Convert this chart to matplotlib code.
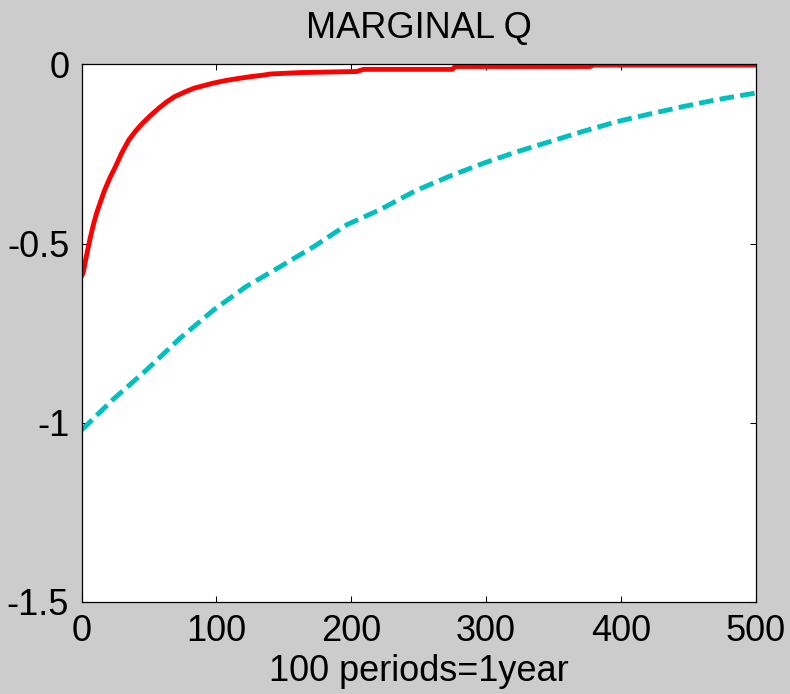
import numpy as np
import matplotlib
matplotlib.use('Agg')
import matplotlib.pyplot as plt

plt.rcParams['font.family'] = ['Liberation Sans', 'DejaVu Sans']
plt.rcParams['axes.unicode_minus'] = False

# red solid curve (stepped tail)
red_x = [0, 1, 3.5, 6, 8.5, 11, 14, 17, 21, 25, 30, 35, 40, 45, 51, 57, 63, 69, 76, 83,
         90, 97, 107, 117, 126, 135, 140, 162, 204, 209, 275, 277, 377, 380, 500]
red_y = [-0.59, -0.583, -0.535, -0.49, -0.45, -0.416, -0.383, -0.351, -0.316, -0.286,
         -0.245, -0.211, -0.186, -0.165, -0.143, -0.123, -0.105, -0.090, -0.078,
         -0.067, -0.06, -0.053, -0.045, -0.039, -0.034, -0.030, -0.027, -0.023,
         -0.020, -0.014, -0.014, -0.006, -0.006, -0.002, -0.002]

# cyan dashed curve
cyan_x = [0, 23, 48, 73, 98, 122, 147, 172, 197, 221, 248, 273, 298, 322, 347,
          372, 397, 422, 446, 472, 500]
cyan_y = [-1.02, -0.936, -0.853, -0.764, -0.685, -0.620, -0.565, -0.509, -0.447,
          -0.406, -0.352, -0.312, -0.276, -0.245, -0.216, -0.187, -0.160, -0.138,
          -0.118, -0.098, -0.08]

xticks = [0, 100, 200, 300, 400, 500]
yticks = [-1.5, -1, -0.5, 0]
ytick_labels = ['-1.5', '-1', '-0.5', '0']

fig = plt.figure(figsize=(7.9, 6.94), dpi=100, facecolor='#cccccc')
ax = fig.add_axes([0.1034, 0.1326, 0.8532, 0.7747])

ax.plot(red_x, red_y, color='#ff0000', lw=3.5)
ax.plot(cyan_x, cyan_y, color='#00bfbf', lw=3.5, linestyle=(0, (3, 1.3)))

ax.set_xlim(0, 500)
ax.set_ylim(-1.5, 0)
ax.set_xticks(xticks)
ax.set_yticks(yticks)
ax.set_yticklabels(ytick_labels)
ax.tick_params(direction='in', length=4.5, width=0.75, labelsize=26,
               top=True, right=True, pad=9)
for s in ax.spines.values():
    s.set_linewidth(0.9)

ax.set_title('MARGINAL Q', fontsize=26, pad=19)
ax.set_xlabel('100 periods=1year', fontsize=26, labelpad=3)

fig.savefig('out.png', dpi=100, facecolor=fig.get_facecolor())
